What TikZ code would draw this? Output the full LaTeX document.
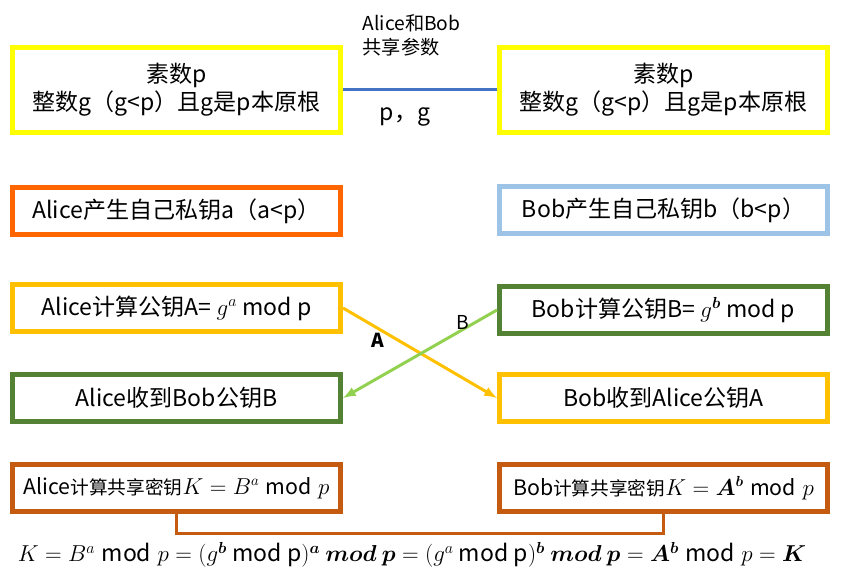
\documentclass[tikz,border=0pt]{standalone}
\usepackage{amsmath}
\usepackage{fontspec}
\setmainfont{Noto Sans CJK SC}
\usepackage{tikz}
\definecolor{keyyellow}{HTML}{FFFF00}
\definecolor{keyorange}{HTML}{FF6600}
\definecolor{keyblue}{HTML}{9DC3E6}
\definecolor{keygold}{HTML}{FFC000}
\definecolor{keygreen}{HTML}{548235}
\definecolor{keybrown}{HTML}{C55A11}
\definecolor{lineblue}{HTML}{4472C4}
\definecolor{linegreen}{HTML}{92D050}

\begin{document}
\begin{tikzpicture}[x=0.75pt,y=0.75pt,yscale=-1,xscale=1,
        keybox/.style={draw=#1,line width=3.75pt,minimum width=246pt,minimum height=35pt,inner sep=0pt,align=center,font=\fontsize{17.28}{21}\selectfont},
        send/.style={line width=2.25pt,-latex}]
        \useasboundingbox (0,0) rectangle (854,577);
        \draw [keybrown, line width=2.25pt] (176.5,511) -- (176.5,533) -- (663.5,533) -- (663.5,511);
        \node [keybox=keyyellow, minimum height=64pt] (a1) at (176.5,90) {素数p\\整数g（g<p）且g是p本原根};
        \node [keybox=keyyellow, minimum height=64pt] (b1) at (663.5,90) {素数p\\整数g（g<p）且g是p本原根};
        \node [keybox=keyorange] (a2) at (176.5,211) {Alice产生自己私钥a（a<p）};
        \node [keybox=keyblue] (b2) at (663.5,210) {Bob产生自己私钥b（b<p）};
        \node [keybox=keygold] (a3) at (176.5,308) {Alice计算公钥A= $g^a$ mod p};
        \node [keybox=keygreen] (b3) at (663.5,310) {Bob计算公钥B= $g^{\boldsymbol b}$ mod p};
        \node [keybox=keygreen] (a4) at (176.5,398) {Alice收到Bob公钥B};
        \node [keybox=keygold] (b4) at (663.5,398) {Bob收到Alice公钥A};
        \node [keybox=keybrown, font=\fontsize{16}{19}\selectfont] (a5) at (176.5,488) {Alice{\fontsize{14}{17}\selectfont 计算共享密钥}$K = B^a \bmod p$};
        \node [keybox=keybrown, font=\fontsize{16}{19}\selectfont] (b5) at (663.5,488) {Bob{\fontsize{14}{17}\selectfont 计算共享密钥}$K = \boldsymbol{A^b} \bmod p$};
        \draw [lineblue, line width=2.25pt] (a1.east) -- (b1.west);
        \draw [send, keygold] (a3.east) -- (b4.west);
        \draw [send, linegreen] (b3.west) -- (a4.east);
        \node [anchor=north west, align=left, font=\fontsize{14.4}{18}\selectfont] (share) at (358,10) {Alice和Bob\\共享参数};
        \node [font=\fontsize{17.28}{21}\selectfont] (pg) at (405,117) {p，g};
        \node [font=\fontsize{14.4}{17}\selectfont\bfseries] (lblA) at (378,340) {A};
        \node [font=\fontsize{14.4}{17}\selectfont] (lblB) at (463,322) {B};
        \node [font=\fontsize{17.28}{21}\selectfont] (proof) at (412,555) {$K = B^a \bmod p = (g^{\boldsymbol b}\ \text{mod p})^{\boldsymbol a}\ \boldsymbol{mod\ p} = (g^a\ \text{mod p})^{\boldsymbol b}\ \boldsymbol{mod\ p} = \boldsymbol{A^b} \bmod p = \boldsymbol K$};
    \end{tikzpicture}
\end{document}
